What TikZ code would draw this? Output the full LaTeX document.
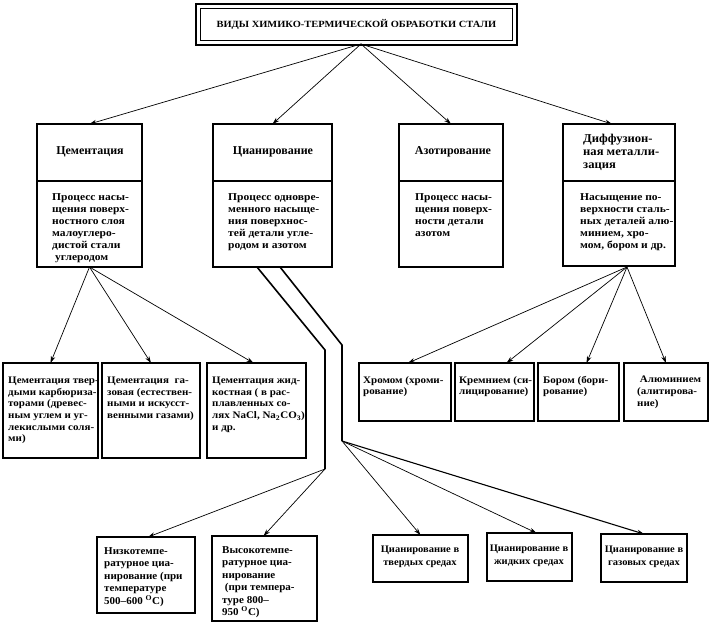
\documentclass[tikz,border=0pt]{standalone}
\usepackage{fontspec}
\setmainfont{Liberation Serif}
\newfontfamily\wf{Liberation Serif}[FakeStretch=1.1]
\newfontfamily\mf{Liberation Serif}[FakeStretch=1.05]
\usetikzlibrary{arrows.meta,calc}
\newcommand\mybox[5]{\node[box, minimum width={(#4-#2)*1pt}, minimum height={(#5-#3)*1pt}] (#1) at (#2,#3) {};}
\begin{document}
\begin{tikzpicture}[x=1pt,y=-1pt,
  box/.style={draw, line width=1.3pt, inner sep=0pt, outer sep=0pt, anchor=north west},
  txt/.style={anchor=north west, align=left, inner sep=0pt, font=\wf\bfseries\fontsize{10.5}{12}\selectfont},
  stxt/.style={anchor=north west, align=left, inner sep=0pt, font=\wf\bfseries\fontsize{10}{11.6}\selectfont},
  ntxt/.style={anchor=north west, align=left, inner sep=0pt, font=\mf\bfseries\fontsize{10.5}{12.5}\selectfont},
  ctxt/.style={anchor=center, align=center, inner sep=0pt, font=\mf\bfseries\fontsize{10}{12.5}\selectfont},
  hd/.style={anchor=center, inner sep=0pt, font=\bfseries\fontsize{12}{13}\selectfont},
  arr/.style={-{Stealth[length=7pt,width=4.5pt]}, line width=0.7pt},
  dbl/.style={line width=1.6pt, line join=miter}]
\useasboundingbox (0,0) rectangle (711,624);

% title
\node[draw, line width=0.8pt, inner sep=0pt, anchor=north west, minimum width=312pt, minimum height=32pt,
  font=\bfseries\fontsize{9.5}{11}\selectfont] (title) at (200,8) {\addfontfeature{FakeStretch=1.1}ВИДЫ ХИМИКО-ТЕРМИЧЕСКОЙ ОБРАБОТКИ СТАЛИ};
\draw[line width=1.6pt] ($(title.north west)+(-4,-4)$) rectangle ($(title.south east)+(4,4)$);
\coordinate (top) at (361,44);

% main columns: header + body
\mybox{cemh}{37}{124}{142}{181}
\mybox{cem}{37}{181}{142}{267}
\mybox{cianh}{213}{124}{332}{181}
\mybox{cian}{213}{181}{332}{267}
\mybox{azoth}{399}{124}{503}{181}
\mybox{azot}{399}{181}{503}{267}
\mybox{difh}{563}{124}{675}{181}
\mybox{dif}{563}{181}{675}{266}

\node[hd] (cemht) at (90,152) {Цементация};
\node[hd] (cianht) at (273,152) {Цианирование};
\node[hd] (azotht) at (453,152) {Азотирование};
\node[hd, anchor=north west, align=left, font=\mf\bfseries\fontsize{12}{13}\selectfont] (difht) at (583,134) {Диффузион-\\ная металли-\\зация};

\node[txt] (cemt) at (52,193) {Процесс насы-\\щения поверх-\\ностного слоя\\малоуглеро-\\дистой стали\\\ углеродом};
\node[txt] (ciant) at (228,193) {Процесс одновре-\\менного насыще-\\ния поверхнос-\\тей детали угле-\\родом и азотом};
\node[txt] (azott) at (415,193) {Процесс насы-\\щения поверх-\\ности детали\\азотом};
\node[txt] (dift) at (580,193) {Насыщение по-\\верхности сталь-\\ных деталей алю-\\минием, хро-\\мом, бором и др.};

% cementation subtypes
\mybox{c1}{3}{363}{98}{458}
\mybox{c2}{102}{363}{200}{458}
\mybox{c3}{207}{363}{306}{458}
\node[stxt] (c1t) at (8,377) {Цементация твер-\\дыми карбюриза-\\торами (древес-\\ным углем и уг-\\лекислыми соля-\\ми)};
\node[stxt] (c2t) at (107,377) {Цементация \ га-\\зовая (естествен-\\ными и искусст-\\венными газами)};
\node[stxt] (c3t) at (212,377) {Цементация жид-\\костная ( в рас-\\плавленных со-\\лях NaCl, Na\textsubscript{2}CO\textsubscript{3})\\и др.};

% diffusion subtypes
\mybox{d1}{359}{363}{451}{421}
\mybox{d2}{455}{363}{534}{421}
\mybox{d3}{538}{363}{619}{421}
\mybox{d4}{624}{363}{708}{421}
\node[stxt] (d1t) at (363,376) {Хромом (хроми-\\рование)};
\node[stxt] (d2t) at (459,376) {Кремнием (си-\\лицирование)};
\node[stxt] (d3t) at (543,376) {Бором (бори-\\рование)};
\node[stxt] (d4t) at (637,376) {\ Алюминием\\(алитирова-\\ние)};

% cyanide subtypes
\mybox{n1}{97}{537}{195}{613}
\mybox{n2}{212}{536}{317}{621}
\mybox{t1}{373}{535}{468}{582}
\mybox{t2}{487}{533}{572}{581}
\mybox{t3}{601}{534}{687}{582}
\node[ntxt] (n1t) at (104,547) {Низкотемпе-\\ратурное циа-\\нирование (при\\температуре\\500–600 \textsuperscript{O}C)};
\node[ntxt] (n2t) at (222,546) {Высокотемпе-\\ратурное циа-\\нирование\\\ (при темпера-\\туре 800–\\950 \textsuperscript{O}C)};
\node[ctxt] (t1t) at (420,557) {Цианирование в\\твердых средах};
\node[ctxt] (t2t) at (529,556) {Цианирование в\\жидких средах};
\node[ctxt] (t3t) at (644,557) {Цианирование в\\газовых средах};

% arrows from title
\draw[arr] (top) -- (cemh.north);
\draw[arr] (top) -- (cianh.north);
\draw[arr] (top) -- (azoth.north);
\draw[arr] (top) -- ($(difh.north)+(-7,0)$);

% cementation arrows
\draw[arr] (cem.south) -- (c1.north);
\draw[arr] (cem.south) -- (c2.north);
\draw[arr] (cem.south) -- ($(c3.north)+(-3,0)$);

% diffusion arrows
\coordinate (dsrc) at ($(dif.south)+(8,1)$);
\draw[arr] (dsrc) -- ($(d1.north)+(3,0)$);
\draw[arr] (dsrc) -- ($(d2.north)+(12,0)$);
\draw[arr] (dsrc) -- ($(d3.north)+(8,0)$);
\draw[arr] (dsrc) -- (d4.north);

% double connector from cyanidation
\coordinate (La) at ($(cian.south)+(-15.5,0)$);
\coordinate (Lb) at (325,350);
\coordinate (Lc) at (325,469);
\coordinate (Ra) at ($(cian.south)+(7.5,0)$);
\coordinate (Rb) at (342,345);
\coordinate (Rc) at (342,441);
\draw[dbl] (La) -- (Lb) -- (Lc);
\draw[dbl] (Ra) -- (Rb) -- (Rc);

\draw[arr] (Lc) -- ($(n1.north)+(2,0)$);
\draw[arr] (Lc) -- ($(n2.north)+(-1,0)$);
\draw[arr] (Rc) -- (t1.north);
\draw[arr] (Rc) -- ($(t2.north)+(7,0)$);
\draw[arr, line width=1.1pt] (Rc) -- (t3.north);
\end{tikzpicture}
\end{document}
